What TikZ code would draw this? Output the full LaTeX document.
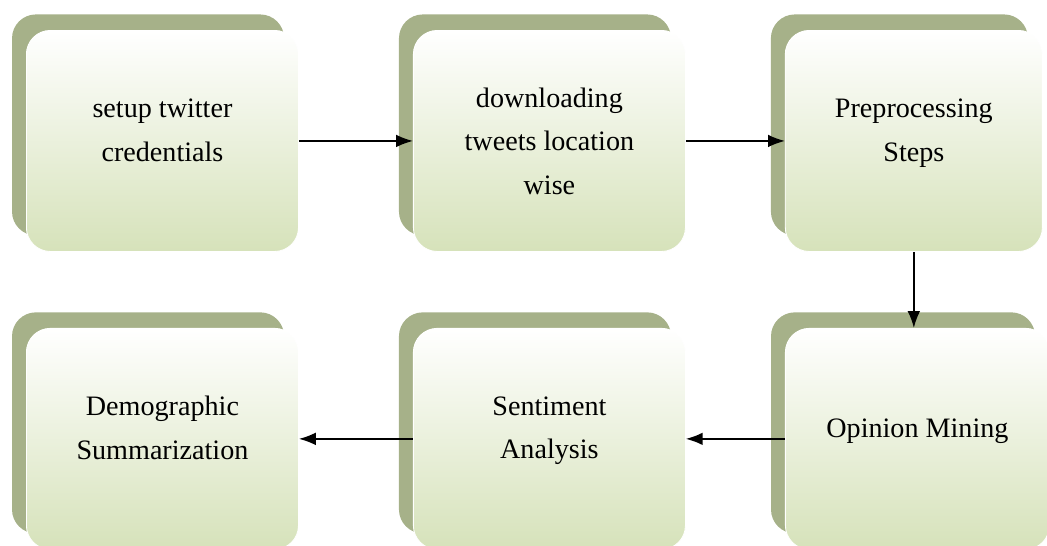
\documentclass[tikz,border=0pt]{standalone}
\usepackage{fontspec}
\setmainfont{Liberation Serif}
\usepackage{tikz}
\usetikzlibrary{arrows.meta, positioning, shadows}
\definecolor{backcolor}{RGB}{166,177,137}
\definecolor{stepgreen}{RGB}{214,226,186}
\tikzset{
  stepbox/.style={rectangle, rounded corners=17pt, minimum width=6.8cm,
                  minimum height=5.525cm, align=center,
                  font=\fontsize{20}{31}\selectfont, text depth=0.55cm,
                  top color=white, middle color=white!72!stepgreen,
                  bottom color=stepgreen, draw=white, line width=0.6pt,
                  general shadow={fill=backcolor, draw=none,
                                  shadow xshift=-0.36cm, shadow yshift=0.4cm}},
  arrow/.style={-{Latex[length=12pt, width=9pt]}, line width=1.1pt, draw=black},
}
\begin{document}
\begin{tikzpicture}[x=0.025cm, y=-0.025cm, node distance=1.9cm and 2.85cm]

  \useasboundingbox (0,0) rectangle (1047,546);

  \node[stepbox, anchor=north west] (setup) at (26,30)
    {setup twitter\\credentials};
  \node[stepbox, text depth=0pt, right=2.85cm of setup]
    (download) {downloading\\tweets location\\wise};
  \node[stepbox, minimum width=6.425cm, right=2.475cm of download]
    (preproc) {Preprocessing\\Steps};

  \node[stepbox, below=1.9cm of setup]
    (demo) {Demographic\\Summarization};
  \node[stepbox, below=1.9cm of download]
    (sentiment) {Sentiment\\Analysis};
  \node[stepbox, minimum width=6.6cm, below=1.9cm of preproc, xshift=0.09cm]
    (opinion) {Opinion Mining};

  % --- Flow ---
  \draw[arrow] (setup) -- (download);
  \draw[arrow] (download) -- (preproc);
  \draw[arrow] (preproc.south) -- (preproc.south |- opinion.north);
  \draw[arrow] (opinion) -- (sentiment);
  \draw[arrow] (sentiment) -- (demo);

\end{tikzpicture}
\end{document}
